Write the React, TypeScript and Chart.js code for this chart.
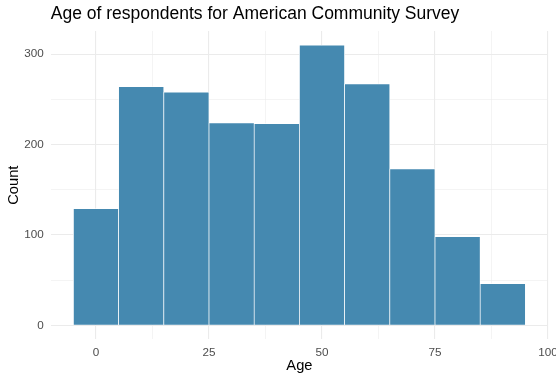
import React, { useEffect, useRef } from 'react';
import { Chart, registerables } from 'chart.js';

Chart.register(...registerables);

const binCenters = [0, 10, 20, 30, 40, 50, 60, 70, 80, 90];
const counts = [129, 264, 258, 224, 223, 310, 267, 173, 98, 46];
const xGridTicks = [0, 12.5, 25, 37.5, 50, 62.5, 75, 87.5, 100];
const xLabelTicks = [0, 25, 50, 75, 100];
const yGridTicks = [0, 50, 100, 150, 200, 250, 300];
const yLabelTicks = [0, 100, 200, 300];

const FONT = '"Liberation Sans", Arial, Helvetica, sans-serif';

export default function App() {
  const ref = useRef<HTMLCanvasElement | null>(null);

  useEffect(() => {
    if (!ref.current) return;
    Chart.defaults.font.family = FONT;
    const chart = new Chart(ref.current, {
      type: 'bar',
      data: {
        datasets: [
          {
            data: binCenters.map((x, i) => ({ x, y: counts[i] })),
            backgroundColor: '#4589b0',
            borderColor: '#ffffff',
            borderWidth: 0.7,
            barPercentage: 1,
            categoryPercentage: 1,
          },
        ],
      },
      options: {
        responsive: false,
        animation: false,
        layout: { padding: { top: 0, right: 8, bottom: 0, left: 0 } },
        plugins: {
          legend: { display: false },
          tooltip: { enabled: false },
          title: {
            display: true,
            text: 'Age of respondents for American Community Survey',
            align: 'start',
            fullSize: false,
            color: '#000000',
            font: { family: FONT, size: 17.5, weight: 'normal', lineHeight: 1.2 },
            padding: { top: 4, bottom: 6 },
          },
        },
        scales: {
          x: {
            type: 'linear',
            offset: false,
            min: -10,
            max: 100,
            afterBuildTicks: (scale: any) => {
              scale.ticks = xGridTicks.map((v) => ({ value: v }));
            },
            afterFit: (scale: any) => {
              scale.height = 42.7;
              scale.paddingLeft = 0;
              scale.paddingRight = 0;
            },
            border: { display: false },
            grid: {
              offset: false,
              drawTicks: false,
              color: '#ebebeb',
              lineWidth: (ctx: any) =>
                xLabelTicks.includes(ctx.tick?.value) ? 1.1 : 0.55,
            },
            ticks: {
              padding: 6.5,
              color: '#4d4d4d',
              font: { family: FONT, size: 11.7 },
              maxRotation: 0,
              autoSkip: false,
              callback: (v: any) => (xLabelTicks.includes(Number(v)) ? String(v) : ''),
            },
            title: {
              display: true,
              text: 'Age',
              color: '#000000',
              font: { family: FONT, size: 14.7, lineHeight: 1.2 },
              padding: { top: 0, bottom: 7.5 },
            },
          },
          y: {
            type: 'linear',
            min: -15.5,
            max: 325.5,
            afterBuildTicks: (scale: any) => {
              scale.ticks = yGridTicks.map((v) => ({ value: v }));
            },
            afterFit: (scale: any) => {
              scale.width = 50.8;
              scale.paddingTop = 0;
              scale.paddingBottom = 0;
            },
            border: { display: false },
            grid: {
              drawTicks: false,
              color: '#ebebeb',
              lineWidth: (ctx: any) =>
                yLabelTicks.includes(ctx.tick?.value) ? 1.1 : 0.55,
            },
            ticks: {
              padding: 7,
              color: '#4d4d4d',
              font: { family: FONT, size: 11.7 },
              autoSkip: false,
              callback: (v: any) => (yLabelTicks.includes(Number(v)) ? String(v) : ''),
            },
            title: {
              display: true,
              text: 'Count',
              color: '#000000',
              font: { family: FONT, size: 14.7, lineHeight: 1.2 },
              padding: { top: 5.4, bottom: 0 },
            },
          },
        },
      },
    });
    return () => chart.destroy();
  }, []);

  return (
    <div style={{ position: 'fixed', left: 0, top: 0, width: 556, height: 382, background: '#ffffff' }}>
      <canvas ref={ref} width={556} height={382} />
    </div>
  );
}
